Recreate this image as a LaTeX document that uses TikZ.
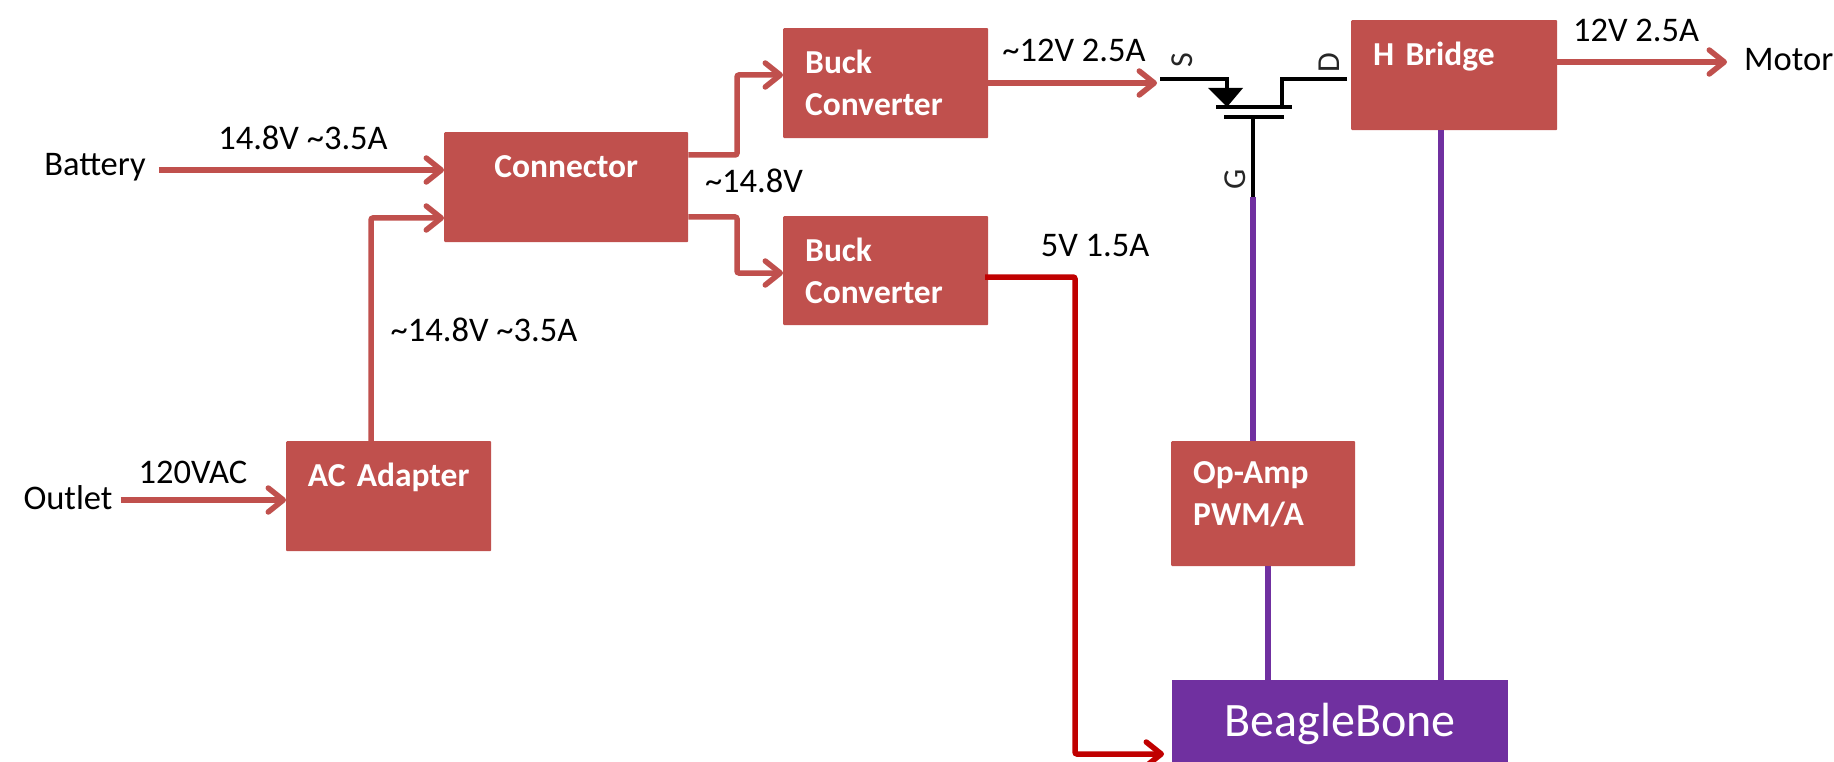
\documentclass[tikz,border=0pt]{standalone}
\usepackage{fontspec}
\setmainfont{Carlito}
\usetikzlibrary{arrows.meta}
\tikzset{
	>={Straight Barb[length=15pt, width=24pt, round]},
	block/.style 2 args={draw=none, fill=#1, rounded corners=1pt, anchor=north west, inner xsep=22pt, inner ysep=0pt, text=white, font=\fontsize{33.5}{42}\selectfont\bfseries, align=left, minimum height=#2},
	wire/.style={color=#1, line width=5.5pt, rounded corners=2pt},
	lbl/.style={text=black, inner sep=0pt, font=\fontsize{34.5}{40}\selectfont},
	pin/.style={text=black!85, inner sep=0pt, rotate=90, font=\fontsize{32}{32}\selectfont},
	fet/.style={color=black, line width=3.5pt},
}
\definecolor{blockred}{HTML}{C0504D}
\definecolor{beaglepurple}{HTML}{7030A0}
\definecolor{railred}{HTML}{C00000}
\begin{document}
\begin{tikzpicture}[x=1pt, y=-1pt]
	\useasboundingbox (0,0) rectangle (1834,762);

	% blocks
	\node[block={blockred}{110pt}, minimum width=244pt, text width=200pt, align=center] (connector) at (444,132) {Connector\\~};
	\node[block={blockred}{110pt}, minimum width=205pt, inner xsep=10pt, text width=185pt, align=center] (acadapter) at (286,441) {AC Adapter\\~};
	\node[block={blockred}{110pt}, minimum width=205pt, text width=161pt] (buckTop) at (783,28) {Buck\\Converter};
	\node[block={blockred}{109pt}, minimum width=205pt, text width=161pt] (buckLow) at (783,216) {Buck\\Converter};
	\node[block={blockred}{110pt}, minimum width=206pt, text width=162pt] (hbridge) at (1351,20) {H Bridge\\~};
	\node[block={blockred}{125pt}, minimum width=184pt, text width=140pt] (opamp) at (1171,441) {Op-Amp\\PWM/A\\[-22pt]~};
	\node[block={beaglepurple}{87pt}, minimum width=336pt, text width=292pt, align=center, rounded corners=0pt, font=\fontsize{48}{56}\selectfont] (beagle) at (1172,680) {BeagleBone};

	% free ends
	\node[lbl] (battery) at (95,167) {Battery};
	\node[lbl] (outlet) at (68,498) {Outlet};
	\node[lbl, anchor=west] (motor) at (1744,60) {Motor};
	\coordinate (connBat) at (444,170);
	\coordinate (connAc) at (444,218);
	\coordinate (fetS) at (1160,79);
	\coordinate (fetD) at (1347,79);
	\coordinate (fetG) at (1253,197);
	\coordinate (buckOut) at (1157,83);
	\coordinate (motorIn) at (1727,62);
	\coordinate (beagleIn) at (1164,754);

	% power wires
	\draw[wire=blockred, ->]	(battery.east) ++(13,3) -- (connBat);
	\draw[wire=blockred, ->]	(371,0 |- acadapter.north) -- (371,218) -- (connAc);
	\draw[wire=blockred, ->]	(outlet.east) ++(8,2) -- (acadapter.west |- 0,500);
	\draw[wire=blockred, ->]	(connector.east |- 0,155) -- (737,155) -- (737,75) -- (buckTop.west |- 0,75);
	\draw[wire=blockred, ->]	(connector.east |- 0,217) -- (737,217) -- (737,273) -- (buckLow.west |- 0,273);
	\draw[wire=blockred, ->]	(buckTop.east |- 0,83) -- (buckOut);
	\draw[wire=blockred, ->]	(hbridge.east |- 0,62) -- (motorIn);
	\draw[wire=railred, ->]	(985,277) -- (1075,277) -- (1075,754) -- (beagleIn);

	% signal wires
	\draw[wire=beaglepurple, rounded corners=0pt]	(fetG) -- (fetG |- opamp.north);
	\draw[wire=beaglepurple, rounded corners=0pt]	(1268,0 |- opamp.south) -- (1268,0 |- beagle.north);
	\draw[wire=beaglepurple, rounded corners=0pt]	(1441,0 |- hbridge.south) -- (1441,0 |- beagle.north);

	% transistor
	\draw[fet]	(fetS) -- (1227,79) -- (1227,107);
	\draw[fet]	(fetD) -- (1282,79) -- (1282,107);
	\draw[fet]	(1216,107) -- (1292,107);
	\draw[fet]	(1224,117) -- (1284,117);
	\draw[fet]	(1253,117) -- (fetG);
	\fill[black]	(1208,88) -- (1243,88) -- (1227,107) -- cycle;
	\node[pin] (pinS) at (1182,60) {S};
	\node[pin] (pinD) at (1329,63) {D};
	\node[pin] (pinG) at (1235,179) {G};

	% labels
	\node[lbl] (lblBat) at (303,138) {14.8V \textasciitilde 3.5A};
	\node[lbl] (lblAc) at (484,330) {\textasciitilde 14.8V \textasciitilde 3.5A};
	\node[lbl] (lblMains) at (193,472) {120VAC};
	\node[lbl] (lblRail) at (754,181) {\textasciitilde 14.8V};
	\node[lbl] (lblTwelve) at (1074,50) {\textasciitilde 12V 2.5A};
	\node[lbl] (lblFive) at (1095,246) {5V 1.5A};
	\node[lbl] (lblMotor) at (1636,30) {12V 2.5A};
\end{tikzpicture}
\end{document}
